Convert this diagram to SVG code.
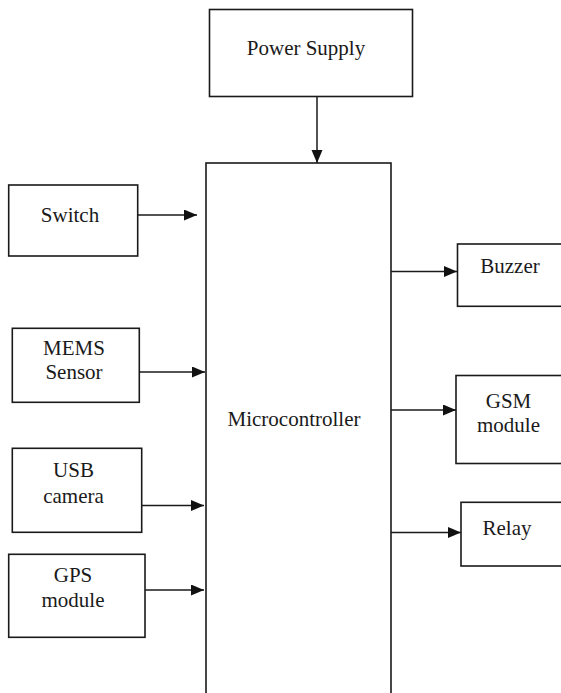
<svg xmlns="http://www.w3.org/2000/svg" width="561" height="693" viewBox="0 0 561 693">
  <style>
    .box { fill: #ffffff; stroke: #1a1a1a; stroke-width: 1.6; }
    .lbl { font-family: 'Liberation Serif', 'DejaVu Serif', serif; font-size: 21px; fill: #1a1a1a; text-anchor: middle; }
    .wire { stroke: #1a1a1a; stroke-width: 1.5; fill: none; marker-end: url(#head); }
  </style>
  <defs>
    <marker id="head" markerUnits="userSpaceOnUse" markerWidth="14" markerHeight="12" refX="13" refY="5.5" orient="auto">
      <path d="M0,0 L13,5.5 L0,11 z" fill="#111111"/>
    </marker>
  </defs>
  <rect width="561" height="693" fill="#ffffff"/>

  <!-- connectors: every input and output runs straight into the microcontroller -->
  <g id="connectors">
    <line class="wire" x1="317" y1="97" x2="317" y2="163"/>
    <line class="wire" x1="138" y1="215" x2="197" y2="215"/>
    <line class="wire" x1="139" y1="372" x2="205" y2="372"/>
    <line class="wire" x1="142" y1="505.5" x2="204" y2="505.5"/>
    <line class="wire" x1="145" y1="590" x2="204" y2="590"/>
    <line class="wire" x1="391" y1="271.5" x2="457" y2="271.5"/>
    <line class="wire" x1="391" y1="410" x2="456" y2="410"/>
    <line class="wire" x1="391" y1="532.5" x2="461" y2="532.5"/>
  </g>

  <g id="power-supply">
    <rect class="box" x="209.5" y="9.5" width="203" height="87"/>
    <text class="lbl" x="306" y="54.5">Power Supply</text>
  </g>

  <g id="microcontroller">
    <rect class="box" x="206" y="163" width="185" height="545"/>
    <text class="lbl" x="294" y="426">Microcontroller</text>
  </g>

  <g id="switch">
    <rect class="box" x="8.7" y="185" width="129" height="71"/>
    <text class="lbl" x="70" y="221.5">Switch</text>
  </g>

  <g id="mems-sensor">
    <rect class="box" x="12.3" y="328.3" width="127" height="74"/>
    <text class="lbl" x="74" y="355">MEMS</text>
    <text class="lbl" x="74" y="378.5">Sensor</text>
  </g>

  <g id="usb-camera">
    <rect class="box" x="12.3" y="448.3" width="129.4" height="84"/>
    <text class="lbl" x="73.5" y="477">USB</text>
    <text class="lbl" x="73.5" y="503">camera</text>
  </g>

  <g id="gps-module">
    <rect class="box" x="8.7" y="554.3" width="136.3" height="83"/>
    <text class="lbl" x="73" y="581.5">GPS</text>
    <text class="lbl" x="73" y="607">module</text>
  </g>

  <g id="buzzer">
    <rect class="box" x="457.5" y="244" width="110" height="62.3"/>
    <text class="lbl" x="510" y="273.3">Buzzer</text>
  </g>

  <g id="gsm-module">
    <rect class="box" x="456" y="375.5" width="110" height="88"/>
    <text class="lbl" x="508.5" y="407.5">GSM</text>
    <text class="lbl" x="508.5" y="432">module</text>
  </g>

  <g id="relay">
    <rect class="box" x="461" y="502.3" width="110" height="63.7"/>
    <text class="lbl" x="507" y="535">Relay</text>
  </g>
</svg>
